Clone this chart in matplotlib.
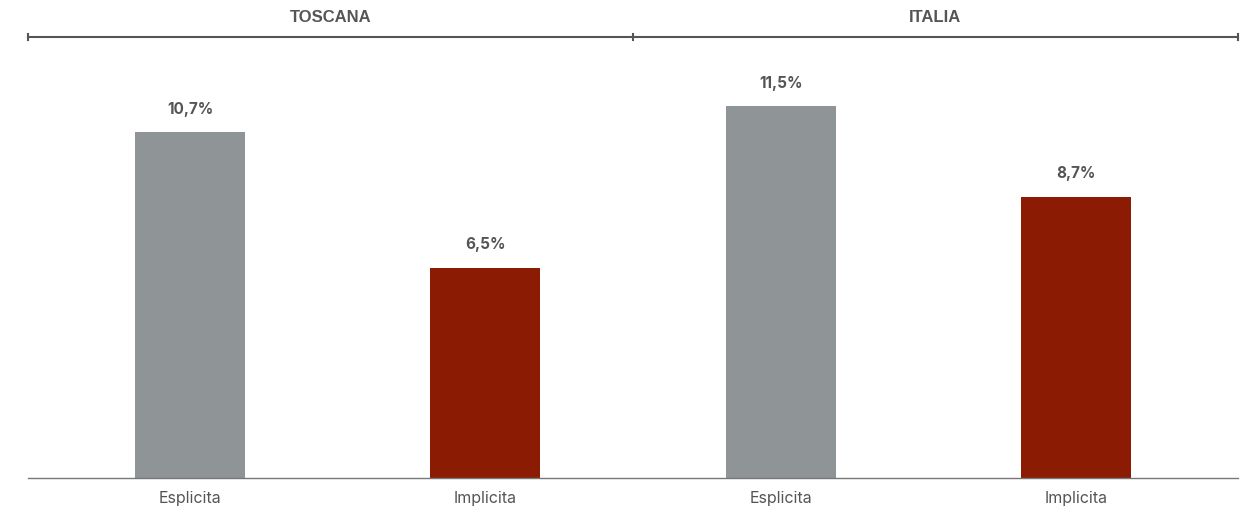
import matplotlib.pyplot as plt

groups = ["TOSCANA", "ITALIA"]
categories = ["Esplicita", "Implicita", "Esplicita", "Implicita"]
values = [10.7, 6.5, 11.5, 8.7]
value_labels = ["10,7%", "6,5%", "11,5%", "8,7%"]
colors = ["#8f9496", "#8b1c03", "#8f9496", "#8b1c03"]

W, H = 1253, 512
fig = plt.figure(figsize=(W / 100, H / 100), dpi=100)
ax = fig.add_axes([28 / W, 34.5 / H, 1210 / W, (477.5 - 37) / H])

x = list(range(len(values)))
ax.bar(x, values, width=0.372, color=colors, zorder=2)
x0, x1 = -0.549, 3.549
ax.set_xlim(x0, x1)
ytop = 13.64
ax.set_ylim(0, ytop)

for xi, v, lab in zip(x, values, value_labels):
    ax.annotate(lab, (xi, v), xytext=(0, 16.5), textcoords="offset points",
                ha="center", va="center", fontsize=11, fontweight="bold",
                color="#555555", family="Inter")

ax.set_xticks(x)
ax.set_xticklabels(categories, fontsize=11.5, color="#555555", family="Inter")
ax.tick_params(axis="x", length=0, pad=10)
ax.set_yticks([])
for s in ["top", "left", "right"]:
    ax.spines[s].set_visible(False)
ax.spines["bottom"].set_color("#777777")
ax.spines["bottom"].set_linewidth(1)

# group brackets along the top
line_color = "#555555"
mid = 1.5
ax.plot([x0, x1], [ytop, ytop], color=line_color, lw=1.5, clip_on=False)
for bx in [x0, mid, x1]:
    ax.plot([bx, bx], [ytop - 0.1, ytop + 0.1], color=line_color, lw=1.5, clip_on=False)
for g, (a, b) in zip(groups, [(x0, mid), (mid, x1)]):
    ax.text((a + b) / 2, ytop + 0.6, g, ha="center", va="center", fontsize=12,
            fontweight="bold", color="#555555", family="Liberation Sans")

fig.savefig("out.png", dpi=100)
